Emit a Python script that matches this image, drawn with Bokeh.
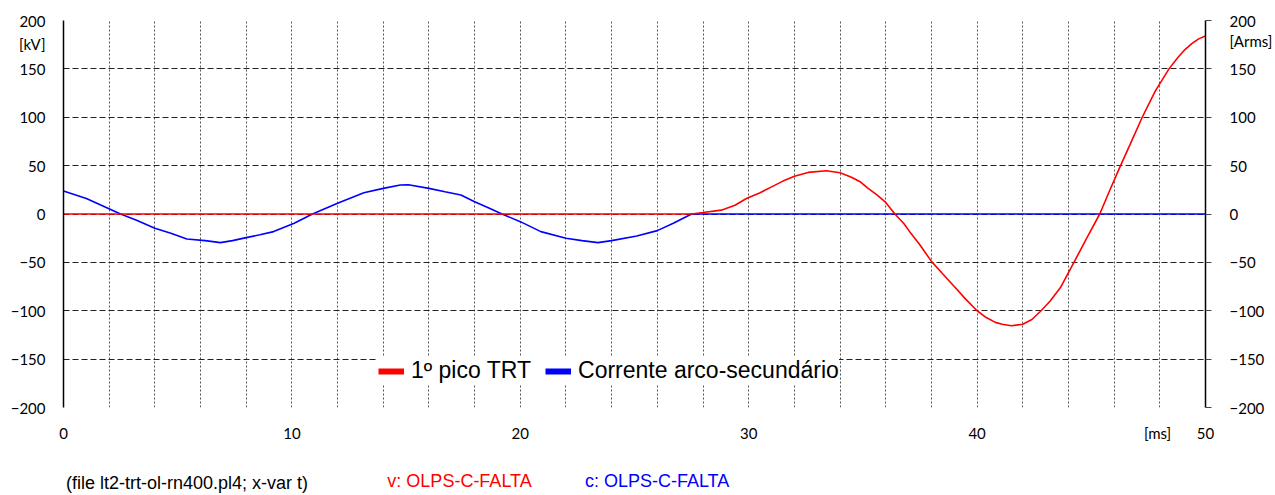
from bokeh.plotting import figure
from bokeh.models import (Range1d, FixedTicker, LinearAxis, Legend, LegendItem)
from bokeh.embed import file_html
from bokeh.resources import INLINE

# ---- data ----
t_v = [0, 27.5, 28.0, 28.8, 29.4, 29.9, 30.5, 31.0, 31.5, 32.0, 32.6, 33.4, 34.0, 34.5,
       34.9, 35.2, 35.6, 36.0, 36.4, 36.8, 37.1, 37.5, 38.0, 38.5, 39.0, 39.5, 40.0, 40.4,
       40.8, 41.1, 41.5, 42.0, 42.4, 42.8, 43.2, 43.65, 44.24, 44.8, 45.37, 45.8, 46.28,
       46.7, 47.23, 47.8, 48.4, 48.8, 49.1, 49.4, 49.7, 50.0]
v_kv = [0, 0, 1.5, 4, 9, 16, 22, 28, 34, 39, 43, 44.7, 42.6, 38,
        33, 27, 20, 12, 0, -10, -20, -32, -49, -62, -75, -88, -100, -107,
        -112, -114, -115.5, -114, -109, -100, -90, -76, -50, -25, 0, 24, 50,
        72, 100, 127, 150, 162, 170, 176, 181, 184]

t_c = [0, 1.0, 2.5, 3.2, 4.0, 4.7, 5.4, 6.2, 6.87, 7.4, 8.0, 8.6, 9.2, 10.1, 10.9, 12.0,
       13.15, 14.0, 14.75, 15.1, 16.0, 16.7, 17.4, 18.0, 18.6, 19.2, 20.0, 20.9, 22.0,
       22.7, 23.4, 24.0, 25.1, 26.0, 26.7, 27.5, 50.0]
c_arms = [23.7, 16, 0, -6.5, -14.8, -20, -25.8, -27.5, -29.6, -27.5, -24.4, -21.5, -18.2,
          -9.6, 0, 11, 22, 26.5, 29.9, 30.2, 26.5, 23, 19.6, 12.7, 6.5, 0, -7.9, -18.2,
          -25.1, -27.5, -29.6, -27.5, -22.7, -17.2, -9.6, 0, 0]

x_ticks = [0, 10, 20, 30, 40, 50]
x_grid = list(range(0, 51, 2))
y_ticks = [-200, -150, -100, -50, 0, 50, 100, 150, 200]

x_unit = "[ms]"
y_unit_left = "[kV]"
y_unit_right = "[Arms]"
legend_labels = ["1º pico TRT", "Corrente arco-secundário"]
footer_file = "(file lt2-trt-ol-rn400.pl4; x-var t)"
footer_v = "v: OLPS-C-FALTA"
footer_c = "c: OLPS-C-FALTA"

TICK_FONT = "Lato"
ARIAL = "Liberation Sans"

p = figure(width=1275, height=495, x_range=Range1d(0, 50), y_range=Range1d(-200, 200),
           output_backend="svg", toolbar_location=None,
           min_border_left=63, min_border_right=70, min_border_top=20, min_border_bottom=87)
p.outline_line_color = None
p.background_fill_color = "white"
p.border_fill_color = "white"

# x axis (labels only) + unit label as an extra tick
X_UNIT_POS = 47.9
p.xaxis.ticker = FixedTicker(ticks=x_ticks + [X_UNIT_POS])
p.xaxis.major_label_overrides = {X_UNIT_POS: x_unit}
p.xaxis.axis_line_color = None
p.xaxis.major_tick_line_color = None
p.xaxis.minor_tick_line_color = None
p.xaxis.major_tick_out = 0
p.xaxis.major_label_standoff = 16
p.xaxis.major_label_text_font = TICK_FONT
p.xaxis.major_label_text_font_size = "15px"
p.xaxis.major_label_text_color = "black"


def footer_axis(pos, text, color, standoff):
    ax = LinearAxis(ticker=FixedTicker(ticks=[pos]))
    ax.major_label_overrides = {pos: text}
    ax.axis_line_color = None
    ax.major_tick_line_color = None
    ax.minor_tick_line_color = None
    ax.major_tick_out = 0
    ax.major_tick_in = 0
    ax.major_label_standoff = standoff
    ax.major_label_text_font = ARIAL
    ax.major_label_text_font_size = "18px"
    ax.major_label_text_color = color
    p.add_layout(ax, "below")


footer_axis(5.41, footer_file, "black", 28)
footer_axis(25.99, footer_c, "#0000ff", -25)
footer_axis(17.34, footer_v, "#ff0000", -25)

# left y axis (+ unit label as an extra tick)
Y_UNIT_L = 176
p.yaxis.ticker = FixedTicker(ticks=y_ticks + [Y_UNIT_L])
p.yaxis.major_label_overrides = {Y_UNIT_L: y_unit_left}
p.yaxis.axis_line_color = "black"
p.yaxis.axis_line_width = 1.5
p.yaxis.major_tick_line_color = None
p.yaxis.minor_tick_line_color = None
p.yaxis.major_tick_out = 0
p.yaxis.major_tick_in = 0
p.yaxis.major_label_standoff = 18
p.yaxis.major_label_text_font = TICK_FONT
p.yaxis.major_label_text_font_size = "15px"
p.yaxis.major_label_text_color = "black"

# right y axis
Y_UNIT_R = 179
ra = LinearAxis(ticker=FixedTicker(ticks=y_ticks + [Y_UNIT_R], minor_ticks=y_ticks))
ra.major_label_overrides = {Y_UNIT_R: y_unit_right}
ra.axis_line_color = "black"
ra.axis_line_width = 1.5
ra.major_tick_line_color = None
ra.major_tick_out = 0
ra.major_tick_in = 0
ra.minor_tick_line_color = "#444444"
ra.minor_tick_out = 6
ra.minor_tick_in = 0
ra.major_label_standoff = 18
ra.major_label_text_font = TICK_FONT
ra.major_label_text_font_size = "15px"
ra.major_label_text_color = "black"
p.add_layout(ra, "right")

# grids
p.xgrid.ticker = FixedTicker(ticks=x_grid)
p.xgrid.grid_line_color = "#555555"
p.xgrid.grid_line_dash = "2 2"
p.xgrid.grid_line_width = 1
p.ygrid.ticker = FixedTicker(ticks=y_ticks)
p.ygrid.grid_line_color = "#222222"
p.ygrid.grid_line_dash = "6 3"
p.ygrid.grid_line_width = 1

# data lines
p.line(t_c, c_arms, line_color="#0000ff", line_width=1.6)
p.line(t_v, v_kv, line_color="#ff0000", line_width=1.6)

# legend (thick swatches from hidden renderers)
r1 = p.line(t_v, v_kv, line_color="#ff0000", line_width=6, visible=False)
r2 = p.line(t_c, c_arms, line_color="#0000ff", line_width=6, visible=False)
legend = Legend(items=[LegendItem(label=legend_labels[0], renderers=[r1]),
                       LegendItem(label=legend_labels[1], renderers=[r2])],
                orientation="horizontal", location=(315, 22),
                label_text_font=ARIAL, label_text_font_size="23px",
                label_text_color="black",
                glyph_width=26, glyph_height=20, label_height=29,
                label_standoff=7, spacing=14, padding=18, margin=0,
                border_line_color=None, background_fill_color="white",
                background_fill_alpha=1.0, inactive_fill_alpha=0.0)
p.add_layout(legend)

open("out.html", "w").write(file_html(p, INLINE))
